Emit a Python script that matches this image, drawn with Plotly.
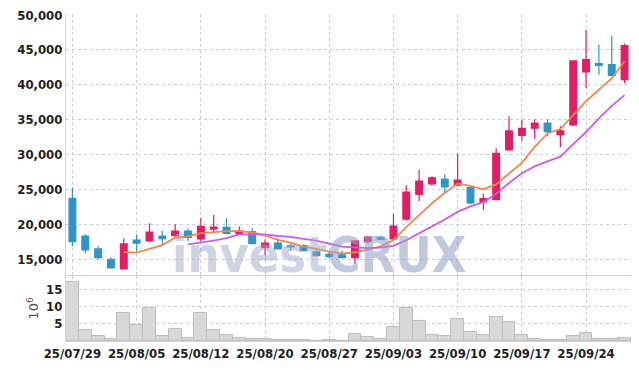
import plotly.graph_objects as go

dates = ["25/07/29","25/07/30","25/07/31","25/08/01","25/08/04","25/08/05","25/08/06","25/08/07",
         "25/08/08","25/08/11","25/08/12","25/08/13","25/08/14","25/08/18","25/08/19","25/08/20",
         "25/08/21","25/08/22","25/08/25","25/08/26","25/08/27","25/08/28","25/08/29","25/09/01",
         "25/09/02","25/09/03","25/09/04","25/09/05","25/09/08","25/09/09","25/09/10","25/09/11",
         "25/09/12","25/09/15","25/09/16","25/09/17","25/09/18","25/09/19","25/09/22","25/09/23",
         "25/09/24","25/09/25","25/09/26","25/09/29"]

opens = [23710,18330,16480,15000,13620,17760,17620,18330,18380,19050,17900,19330,19570,18670,18950,16670,
         17330,16950,16950,16050,15710,15620,15240,17520,18140,17900,20760,24290,25810,26480,25620,25270,
         23210,23540,30650,32760,33770,34490,32860,34250,41830,43030,42890,40730]
highs = [25290,18570,16950,15240,18000,18570,20140,19100,20000,19430,20950,21330,20860,19710,19520,17860,
         18000,17290,17140,16290,16100,16240,17670,18380,18380,21480,25620,27860,26900,27190,30140,25370,
         24410,30890,35450,34970,35060,35060,34100,43510,47830,45770,47060,45910]
lows = [16810,15860,15050,13670,13570,16100,17520,17050,18240,17620,17500,18860,18570,18570,17140,15620,
        16380,16190,16140,15430,15140,15140,14330,17290,17760,17760,20520,23330,25570,24520,25480,22870,
        22100,23450,30550,31990,32230,32570,31030,34100,39530,41450,41210,40250]
closes = [17520,16330,15240,13760,17190,17290,18900,17950,19050,18140,19700,19620,18710,19050,17240,17330,
          16480,16760,16240,15520,15380,15240,17620,18190,17860,19760,24620,26190,26670,25380,26330,23060,
          23690,30170,33380,33770,34490,33290,33380,43420,43610,42790,41350,45620]

ma5 = [None]*4 + [16010,15960,16480,17020,18080,18270,18750,18890,19040,19040,18860,18390,17760,17370,
                  16810,16470,16080,15830,16000,16390,16860,17730,19610,21320,23020,24520,25840,25530,
                  25030,25730,27330,28810,31100,33020,33660,35670,37640,39300,40910,43360]
ma10 = [None]*9 + [17140,17360,17680,18030,18560,18570,18570,18330,18210,17930,17670,17230,16800,16690,
                   16600,16660,16910,17720,18660,19710,20690,21790,22570,23180,24370,25930,27330,28310,
                   29020,29690,31500,33230,35200,36970,38510]

volume_m = [17.05,3.2,1.45,0.6,8.1,4.7,9.5,1.45,3.5,0.85,8.1,3.2,1.7,0.85,0.6,0.6,0.3,0.3,0.3,0.15,0.3,0.1,
            2.1,1.15,0.6,4.0,9.5,5.8,1.8,1.45,6.35,2.6,1.7,6.9,5.5,1.7,0.6,0.3,0.3,1.45,2.3,0.6,0.6,0.85]

x_ticks = ["25/07/29","25/08/05","25/08/12","25/08/20","25/08/27","25/09/03","25/09/10","25/09/17","25/09/24"]
price_ticks = [15000,20000,25000,30000,35000,40000,45000,50000]
vol_ticks = [5,10,15]

RED = "#e31c66"
BLUE = "#2f95c8"
FONT = "DejaVu Sans Condensed, Liberation Sans, sans-serif"
TICKFONT = dict(family=FONT, size=13, color="#222222", weight="bold")
GRID = "#c9cedd"
BORDER = "#d2d2d6"

fig = go.Figure()

fig.add_trace(go.Bar(x=dates, y=volume_m, xaxis="x", yaxis="y2",
                     marker=dict(color="#d8d8d8", line=dict(color="#bdbdbd", width=1)),
                     showlegend=False, hoverinfo="skip"))

fig.add_trace(go.Candlestick(x=dates, open=opens, high=highs, low=lows, close=closes,
                             xaxis="x", yaxis="y",
                             increasing=dict(line=dict(color=RED, width=1.2), fillcolor=RED),
                             decreasing=dict(line=dict(color=BLUE, width=1.2), fillcolor=BLUE),
                             showlegend=False))

fig.add_trace(go.Scatter(x=dates, y=ma5, mode="lines", xaxis="x", yaxis="y",
                         line=dict(color="#f0884c", width=1.8), showlegend=False))
fig.add_trace(go.Scatter(x=dates, y=ma10, mode="lines", xaxis="x", yaxis="y",
                         line=dict(color="#cc5ce6", width=1.8), showlegend=False))

fig.update_layout(
    width=623, height=354,
    margin=dict(l=58, r=0, t=6, b=21, autoexpand=False),
    paper_bgcolor="white", plot_bgcolor="white",
    bargap=0, boxgap=0.25,
    xaxis=dict(type="category", anchor="y2", range=[-0.5, len(dates) - 0.5], automargin=False,
               rangeslider=dict(visible=False),
               tickmode="array", tickvals=x_ticks, ticktext=x_ticks,
               tickfont=TICKFONT, showgrid=True, gridcolor=GRID, griddash="dot", gridwidth=1,
               showline=True, linecolor=BORDER, mirror=True, ticks="", zeroline=False,
               ticklabeloverflow="allow"),
    xaxis2=dict(type="category", overlaying="x", matches="x", anchor="y", showticklabels=False,
                showgrid=True, gridcolor=GRID, griddash="dot", tickmode="array", tickvals=x_ticks,
                showline=True, linecolor=BORDER, mirror=True, ticks="", automargin=False),
    yaxis=dict(domain=[0.199, 1], range=[12610, 50140], tickmode="array", tickvals=price_ticks,
               tickformat=",", tickfont=TICKFONT, showgrid=True, gridcolor=GRID, griddash="dot",
               showline=True, linecolor=BORDER, mirror=True, ticks="", zeroline=False, automargin=False,
               ticklabeloverflow="allow"),
    yaxis2=dict(domain=[0, 0.199], range=[0, 18.9], tickmode="array", tickvals=vol_ticks,
                tickfont=TICKFONT, showgrid=True, gridcolor=GRID, griddash="dot",
                showline=True, linecolor=BORDER, mirror=True, ticks="", zeroline=False, automargin=False,
                ticklabeloverflow="allow",
                title=dict(text="10<sup>6</sup>", font=dict(family="DejaVu Sans", size=13, color="#555555"),
                           standoff=4)),
)

fig.add_annotation(xref="paper", yref="paper", x=0.447, y=0.262, xanchor="center", yanchor="middle",
                   text="<span style='color:rgba(160,170,200,0.5)'>invest</span><span style='color:rgba(150,160,198,0.58)'>CRUX</span>",
                   showarrow=False, font=dict(family=FONT, size=50, weight="bold"))

fig.write_html("out.html")
